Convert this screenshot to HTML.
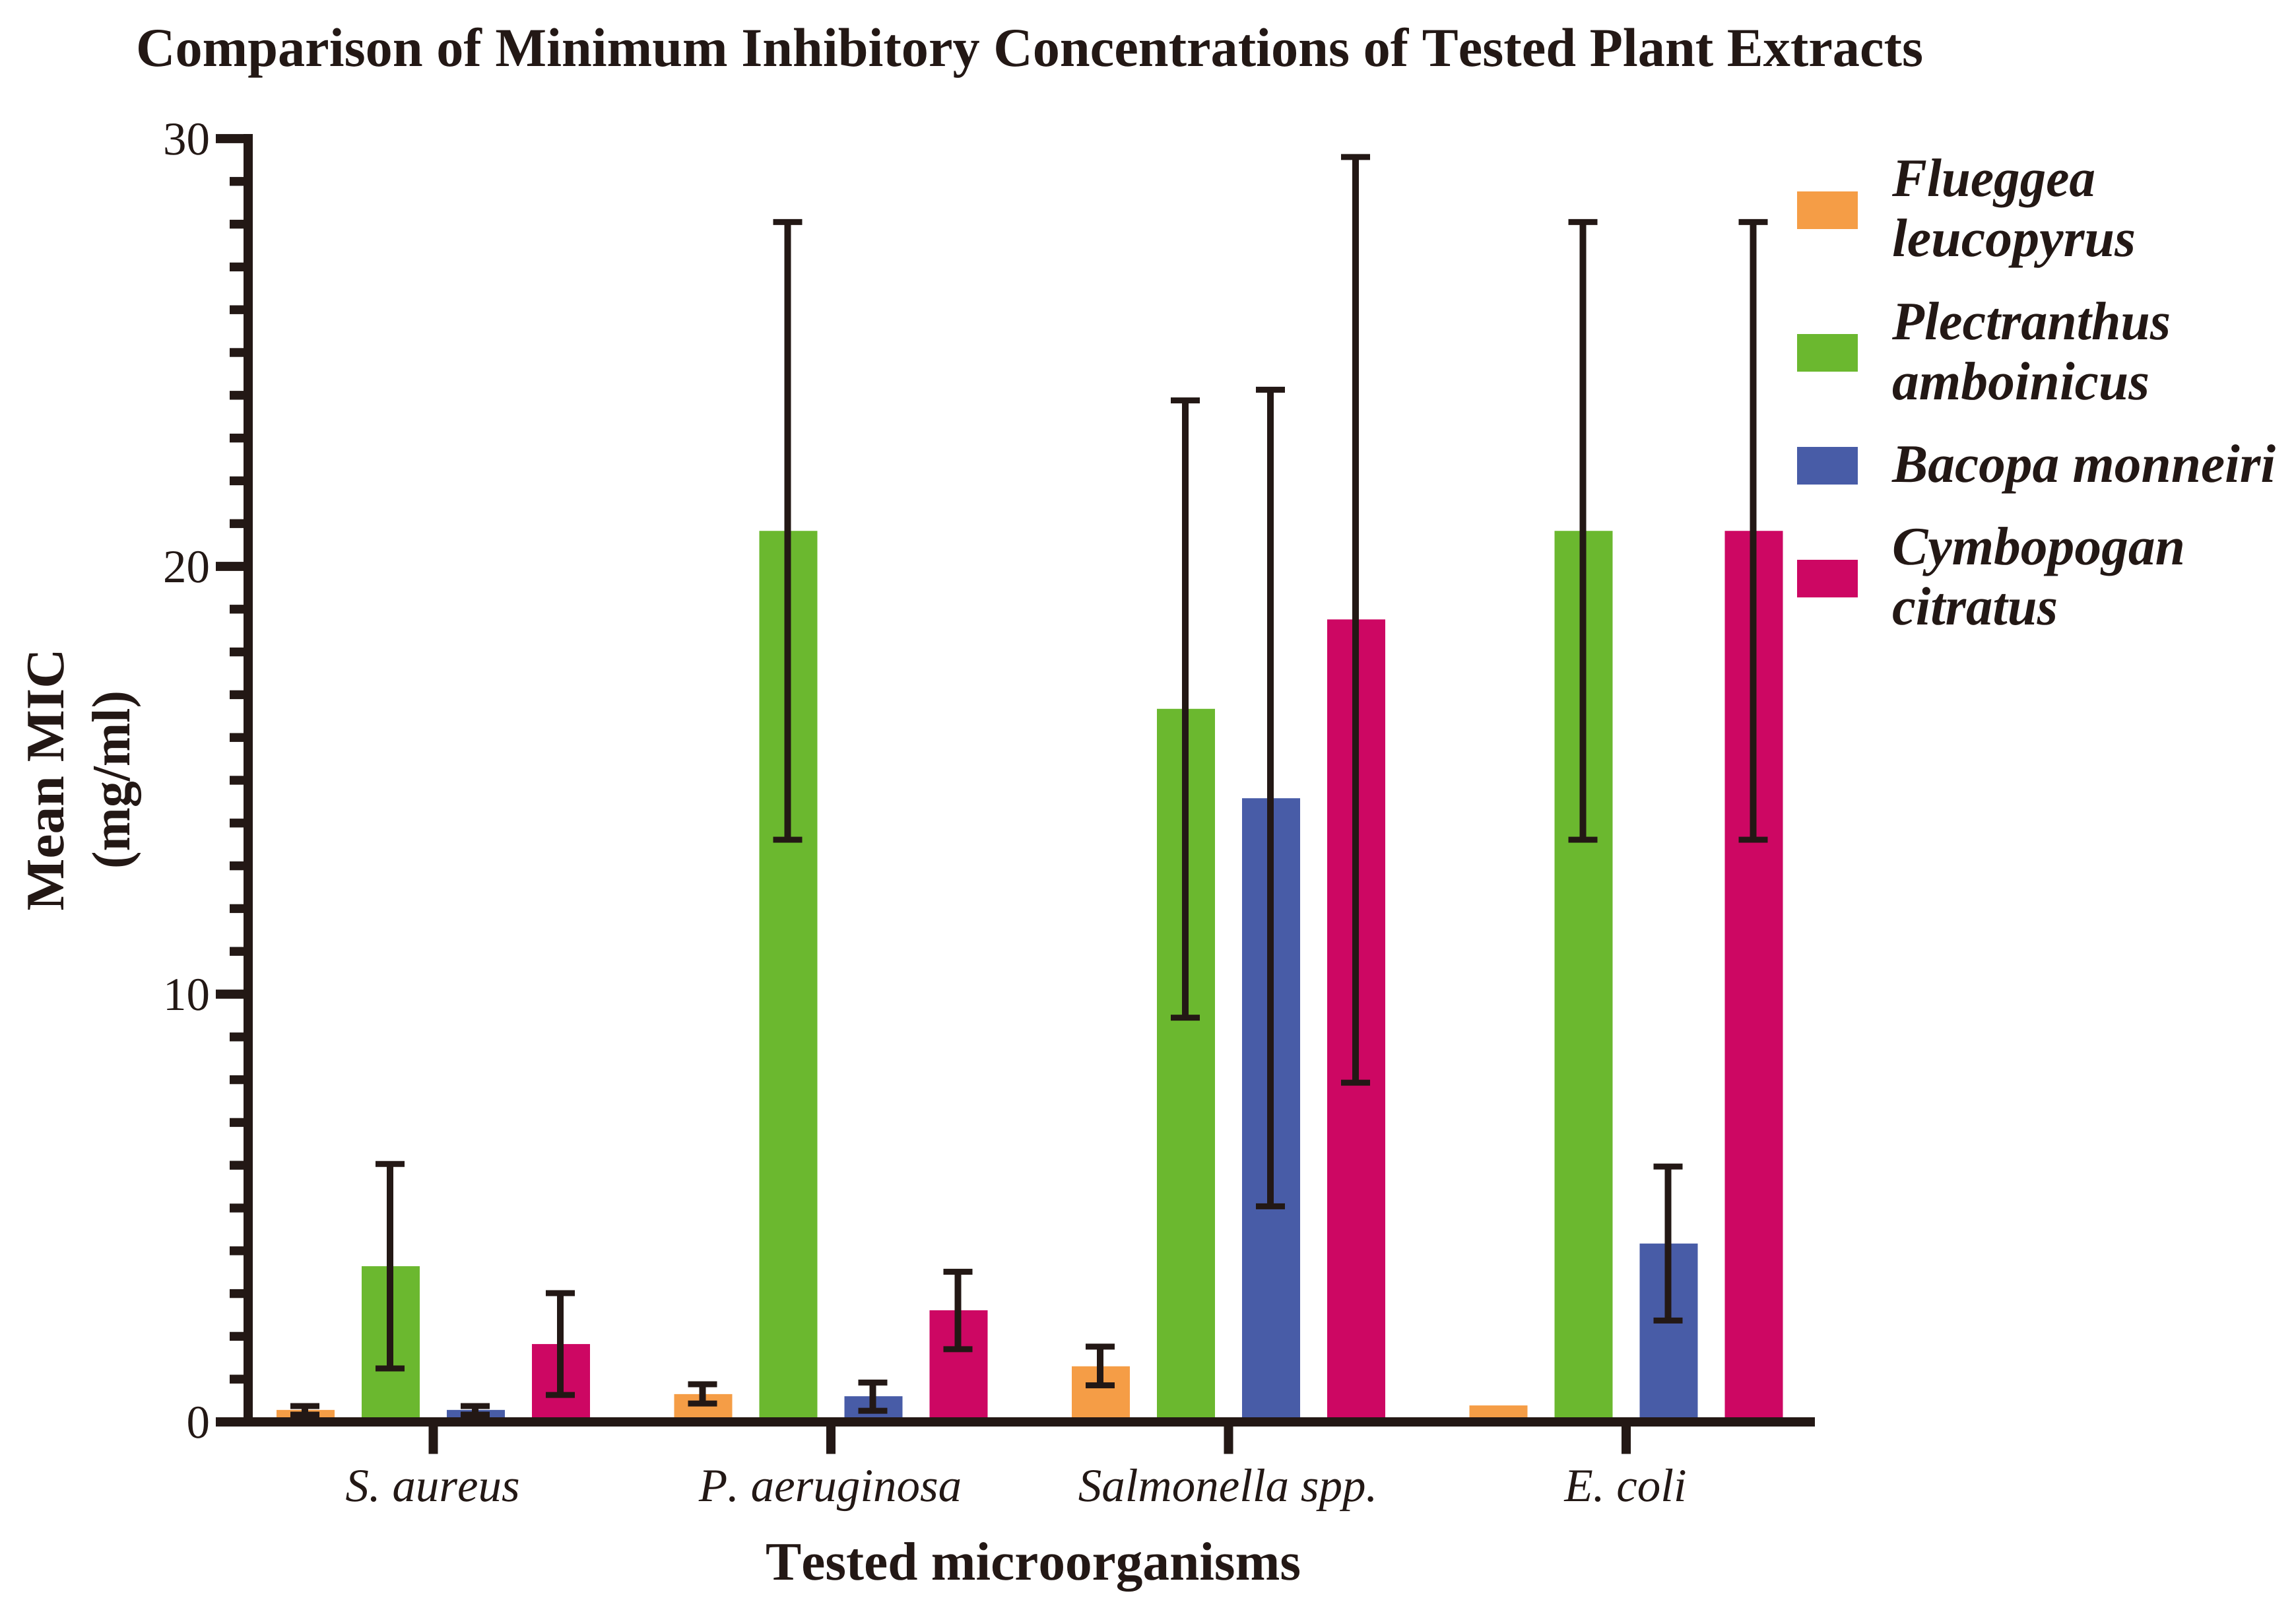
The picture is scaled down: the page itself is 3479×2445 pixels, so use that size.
<!DOCTYPE html>
<html lang="en">
<head>
<meta charset="utf-8">
<title>Comparison of Minimum Inhibitory Concentrations of Tested Plant Extracts</title>
<style>
  html, body { margin: 0; padding: 0; background: #fff; }
  body { width: 3479px; height: 2445px; overflow: hidden; }
  svg { display: block; }
  text { font-family: "Liberation Serif", serif; fill: #231815; text-rendering: geometricPrecision; font-kerning: none; }
  .bold { font-weight: 700; font-size: 82px; }
  .legend-text { font-weight: 700; font-style: italic; font-size: 82px; }
  .ytick { font-size: 71px; text-anchor: end; }
  .xtick { font-size: 71px; font-style: italic; text-anchor: middle; }
</style>
</head>
<body>
<svg id="chart" xmlns="http://www.w3.org/2000/svg" width="3479" height="2445" viewBox="0 0 3479 2445">
  <rect x="0" y="0" width="3479" height="2445" fill="#ffffff"/>
  <text class="bold" x="206" y="100" style="font-size:83px" textLength="2708" lengthAdjust="spacingAndGlyphs">Comparison of Minimum Inhibitory Concentrations of Tested Plant Extracts</text>
  <g id="bars"></g>
  <g id="errors"></g>
  <g id="axes"></g>
  <text class="bold" text-anchor="middle" transform="translate(96 1181) rotate(-90)" textLength="397" lengthAdjust="spacingAndGlyphs">Mean MIC</text>
  <text class="bold" text-anchor="middle" transform="translate(196 1181) rotate(-90)" textLength="270" lengthAdjust="spacingAndGlyphs">(mg/ml)</text>
  <text class="bold" x="1160" y="2393" textLength="811" lengthAdjust="spacingAndGlyphs">Tested microorganisms</text>
  <g>
    <rect x="2723" y="290" width="92" height="57" fill="#f59d46"/>
    <text class="legend-text" x="2867" y="297" textLength="308" lengthAdjust="spacingAndGlyphs">Flueggea</text>
    <text class="legend-text" x="2867" y="388">leucopyrus</text>
    <rect x="2723" y="506" width="92" height="57" fill="#6bb82f"/>
    <text class="legend-text" x="2867" y="514" textLength="422" lengthAdjust="spacingAndGlyphs">Plectranthus</text>
    <text class="legend-text" x="2867" y="605" textLength="390" lengthAdjust="spacingAndGlyphs">amboinicus</text>
    <rect x="2723" y="677" width="92" height="57" fill="#485ca7"/>
    <text class="legend-text" x="2867" y="730" textLength="581" lengthAdjust="spacingAndGlyphs">Bacopa monneiri</text>
    <rect x="2723" y="848" width="92" height="57" fill="#cd0763"/>
    <text class="legend-text" x="2867" y="855" textLength="444" lengthAdjust="spacingAndGlyphs">Cymbopogan</text>
    <text class="legend-text" x="2867" y="946" textLength="251" lengthAdjust="spacingAndGlyphs">citratus</text>
  </g>
</svg>
<script>
var categories = ['S. aureus', 'P. aeruginosa', 'Salmonella spp.', 'E. coli'];
var seriesNames = ['flueggea', 'plectranthus', 'bacopa', 'cymbopogan'];
var seriesColors = ['#f59d46', '#6bb82f', '#485ca7', '#cd0763'];

var flueggeaMeans = [0.28, 0.65, 1.30, 0.385];
var plectranthusMeans = [3.64, 20.83, 16.67, 20.83];
var bacopaMeans = [0.28, 0.60, 14.58, 4.17];
var cymbopoganMeans = [1.82, 2.61, 18.76, 20.83];

var flueggeaUpper = [0.37, 0.88, 1.76, null];
var flueggeaLower = [0.17, 0.43, 0.855, null];
var plectranthusUpper = [6.03, 28.05, 23.88, 28.05];
var plectranthusLower = [1.25, 13.61, 9.45, 13.61];
var bacopaUpper = [0.37, 0.92, 24.13, 5.97];
var bacopaLower = [0.17, 0.26, 5.04, 2.37];
var cymbopoganUpper = [3.01, 3.51, 29.57, 28.05];
var cymbopoganLower = [0.63, 1.70, 7.93, 13.61];

var yTickValues = [0, 10, 20, 30];
var yMinorStep = 1;
var yMax = 30;

var INK = '#231815';
var NS = 'http://www.w3.org/2000/svg';
var barWidth = 88;

function yScale(v) { return 2154 - v * (1944 / yMax); }
function xCategory(i) { return 656.5 + i * 602.5; }
function xBar(i, s) { return xCategory(i) + (s - 1.5) * 129; }

function makeRect(parent, x, y, w, h, fill) {
  var r = document.createElementNS(NS, 'rect');
  r.setAttribute('x', x);
  r.setAttribute('y', y);
  r.setAttribute('width', w);
  r.setAttribute('height', h);
  r.setAttribute('fill', fill);
  parent.appendChild(r);
  return r;
}

var barsGroup = document.getElementById('bars');
var errorsGroup = document.getElementById('errors');
var axesGroup = document.getElementById('axes');

var allMeans = [flueggeaMeans, plectranthusMeans, bacopaMeans, cymbopoganMeans];
var allUpper = [flueggeaUpper, plectranthusUpper, bacopaUpper, cymbopoganUpper];
var allLower = [flueggeaLower, plectranthusLower, bacopaLower, cymbopoganLower];

allMeans.forEach(function (means, s) {
  means.forEach(function (v, i) {
    var cx = xBar(i, s);
    var bar = makeRect(barsGroup, cx - barWidth / 2, yScale(v), barWidth, yScale(0) - yScale(v), seriesColors[s]);
    
    

    var up = allUpper[s][i];
    var lo = allLower[s][i];
    if (up === null || lo === null) { return; }
    var ex = cx - 1;
    var stem = makeRect(errorsGroup, ex - 5, yScale(up), 10, yScale(lo) - yScale(up), INK);
    
    
    var capTop = makeRect(errorsGroup, ex - 22, yScale(up) - 4.5, 44, 9, INK);
    
    
    var capBottom = makeRect(errorsGroup, ex - 22, yScale(lo) - 4.5, 44, 9, INK);
    
    
  });
});

/* y axis line and ticks */
var yLine = makeRect(axesGroup, 369, yScale(yMax) - 7, 14, yScale(0) - yScale(yMax) + 14, INK);



for (var m = 0; m <= yMax; m += yMinorStep) {
  if (yTickValues.indexOf(m) >= 0) { continue; }
  var minor = makeRect(axesGroup, 348, yScale(m) - 6.7, 25, 13.4, INK);
  
  
}

yTickValues.forEach(function (v) {
  var major = makeRect(axesGroup, 327, yScale(v) - 6.9, 50, 13.8, INK);
  
  
  var label = document.createElementNS(NS, 'text');
  label.setAttribute('class', 'ytick');
  label.setAttribute('x', 318);
  label.setAttribute('y', yScale(v) + 24);
  label.textContent = String(v);
  
  
  axesGroup.appendChild(label);
});

/* x axis line and ticks */
var xLine = makeRect(axesGroup, 327, yScale(0) - 7, 2423, 14, INK);



categories.forEach(function (name, i) {
  var tick = makeRect(axesGroup, xCategory(i) - 7, yScale(0), 14, 48.5, INK);
  
  
  var label = document.createElementNS(NS, 'text');
  label.setAttribute('class', 'xtick');
  label.setAttribute('x', xCategory(i) - 1);
  label.setAttribute('y', 2274);
  label.textContent = name;
  
  
  axesGroup.appendChild(label);
});
</script>
</body>
</html>
